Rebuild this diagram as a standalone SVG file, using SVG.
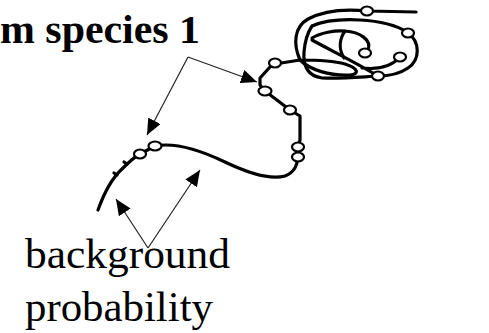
<svg xmlns="http://www.w3.org/2000/svg" width="489" height="333" viewBox="0 0 489 333">
<defs>
<style>
.curve{fill:none;stroke:#000;stroke-width:3.2;stroke-linecap:round;stroke-linejoin:round}
.dot{fill:#fff;stroke:#000;stroke-width:2.2}
.arr{fill:none;stroke:#222;stroke-width:1.2;marker-end:url(#ah)}
.lbl{font-family:"Liberation Serif","Times New Roman",serif;fill:#000}
</style>
<marker id="ah" markerUnits="userSpaceOnUse" markerWidth="18" markerHeight="14" refX="16" refY="7" orient="auto">
<path d="M0,0 L16,7 L0,14 z" fill="#000"/>
</marker>
</defs>
<rect width="489" height="333" fill="#fff"/>
<g id="title">
<text class="lbl" x="0" y="43" font-size="40" font-weight="bold" textLength="200" lengthAdjust="spacingAndGlyphs">m species 1</text>
</g>
<g id="label-background">
<text class="lbl" x="25" y="268" font-size="43" textLength="205" lengthAdjust="spacingAndGlyphs">background</text>
<text class="lbl" x="25" y="321" font-size="43" textLength="188" lengthAdjust="spacingAndGlyphs">probability</text>
</g>
<g id="sequence">
<path class="curve" d="M98 210 C103 196,110 180,122 169 C130 161,136 156,140 154 L155 146 C175 142,200 150,225 162 C250 174,270 180,285 176 C295 172,297 165,298 157 L298 147 L300 140 L300 116 L290 110 L265 91 L260 85 L260 78 L270 67 L275 64 L300 60"/>
<path class="curve" d="M117 175 l-3 -2 M127 164 l-3 -2"/>
<path class="curve" d="M300 60 C293 44,294 27,308 19 C325 10,348 9,367 11 L416 12"/>
<path class="curve" d="M312 26 C335 16,385 18,407 32 C421 42,420 60,408 68 C398 75,388 76,378 76 C360 77,340 79,322 78 C308 76,303 66,304 52 C305 40,308 32,312 26"/>
<path class="curve" d="M312 38 C320 33,335 30,345 31 C360 32,372 40,368 50 L365 53 M345 31 C340 38,338 48,344 58"/>
<path class="curve" d="M312 40 C330 50,355 62,378 76 M400 57 C392 66,380 70,362 68"/>
<path class="curve" d="M300 60 C310 70,330 76,350 75 C360 74,358 68,345 64 C330 60,312 60,300 60"/>
</g>
<g id="dots">
<ellipse class="dot" cx="140" cy="154" rx="6" ry="4.5"/>
<ellipse class="dot" cx="155" cy="146" rx="6.5" ry="4.5"/>
<ellipse class="dot" cx="298" cy="147" rx="6" ry="4.5"/>
<ellipse class="dot" cx="298" cy="157" rx="6" ry="4.5"/>
<ellipse class="dot" cx="290" cy="110" rx="6" ry="4.5"/>
<ellipse class="dot" cx="265" cy="91" rx="6.5" ry="4.5"/>
<ellipse class="dot" cx="275" cy="63" rx="6" ry="4.5"/>
<ellipse class="dot" cx="367" cy="11" rx="6" ry="4.5"/>
<ellipse class="dot" cx="408" cy="33" rx="6" ry="4.5"/>
<ellipse class="dot" cx="365" cy="53" rx="6" ry="4.5"/>
<ellipse class="dot" cx="400" cy="57" rx="6" ry="4.5"/>
<ellipse class="dot" cx="378" cy="76" rx="6" ry="4.5"/>
</g>
<g id="connectors">
<polyline class="arr" points="188,57 257,82"/>
<polyline class="arr" points="188,57 147,135"/>
<polyline class="arr" points="148,248 116,199"/>
<polyline class="arr" points="148,248 200,170"/>
</g>
</svg>
